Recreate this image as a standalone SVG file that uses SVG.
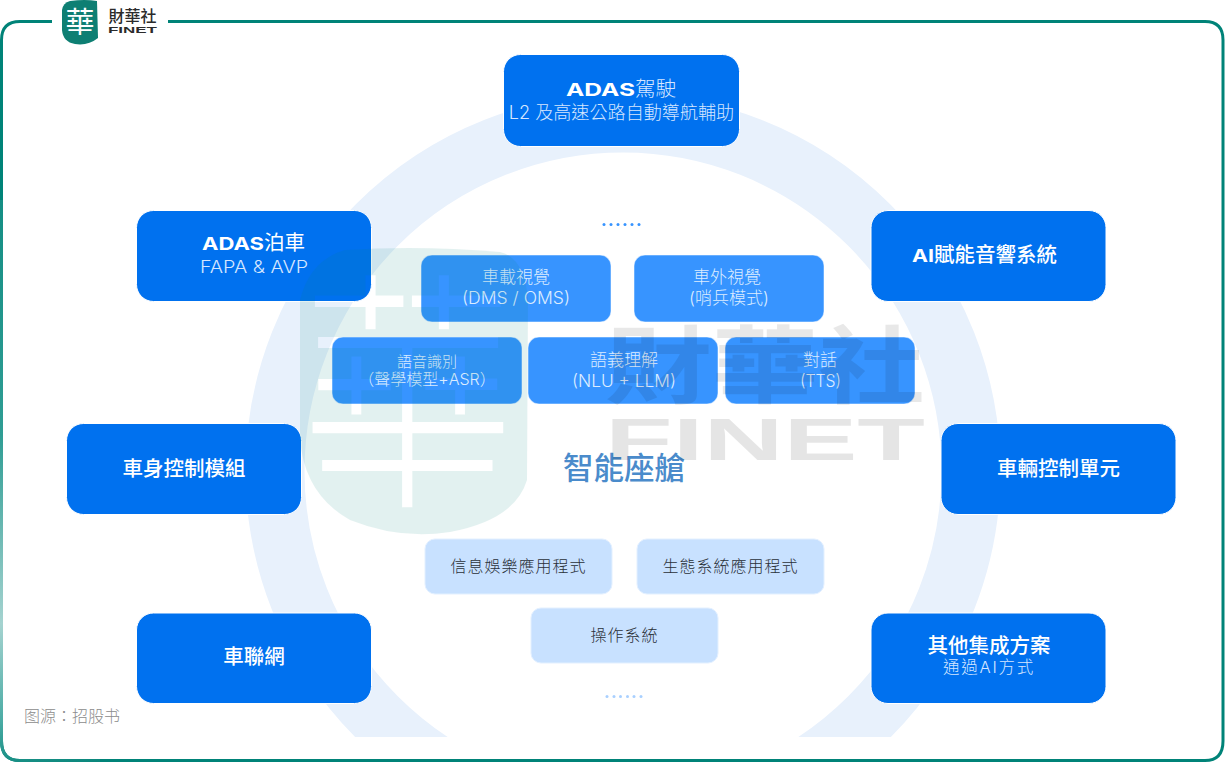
<svg xmlns="http://www.w3.org/2000/svg" width="1225" height="782" viewBox="0 0 1225 782">
<style>
text{font-family:"Inter","Noto Sans CJK TC",sans-serif;text-anchor:middle}
.st{text-anchor:start}
.n{fill:#0071ef;stroke:#fff;stroke-width:1}
.m{fill:#3794ff;stroke:#fff;stroke-opacity:.5}
.l{fill:#c8e1ff;stroke:#e3f0ff}
.t{fill:#fff;font-size:20.500px;font-weight:500}
.s{fill:#d5e6ff;font-size:18.100px;font-weight:300}
.b{fill:#fff;font-weight:700;font-size:18px}
.mt{fill:#dcecff;font-size:17px;font-weight:300}
.lt{fill:#2a3038;font-size:16px;font-weight:300;letter-spacing:1px}
</style>
<defs>
<linearGradient id="fr" gradientUnits="userSpaceOnUse" x1="0" y1="21" x2="100" y2="761">
<stop offset="0" stop-color="#008378"/><stop offset=".55" stop-color="#2f9d94"/><stop offset=".8" stop-color="#a5d3d0"/><stop offset=".93" stop-color="#4aaba4"/><stop offset="1" stop-color="#0a877c"/>
</linearGradient>
<clipPath id="rc"><rect x="0" y="0" width="1225" height="737"/></clipPath>
<mask id="lm" maskUnits="userSpaceOnUse" x="280" y="230" width="270" height="320">
<rect x="280" y="230" width="270" height="320" fill="#fff"/>
<text transform="translate(408 488) scale(.95 1.130)" style="font-size:225px;font-weight:300" fill="#000">華</text>
</mask>
</defs>
<rect width="1225" height="782" fill="#fff"/>
<g id="frame" fill="none" stroke-width="3">
<path d="M52 21.500H20Q1.500 21.500 1.500 40V741Q1.500 760.500 20 760.500H1205Q1223 760.500 1223 741V40Q1223 21.500 1205 21.500H168" stroke="#008378"/>
<path d="M1.500 200V741Q1.500 760.500 20 760.500H100" stroke="url(#fr)"/>
</g>
<g id="ring" clip-path="url(#rc)">
<circle cx="623" cy="471" r="348" fill="none" stroke="#e8f1fc" stroke-width="59"/>
</g>
<g id="logo">
<path d="M70 1Q85 -1 97 1L98 38Q88 46 75 44Q63 42 62 30L62 10Q63 3 70 1Z" fill="#0e7f73"/>
<text x="80" y="33" style="font-size:29px;font-weight:400" fill="#fff">華</text>
<text x="132.500" y="22" style="font-size:16px;font-weight:500" fill="#2b2b2b">財華社</text>
<text x="108" y="33" class="st" textLength="49" lengthAdjust="spacingAndGlyphs" style="font-size:9.500px;font-weight:700;font-family:'Liberation Sans',sans-serif" fill="#2b2b2b">FINET</text>
</g>
<g id="connectors"></g>
<g id="n-drive"><rect class="n" x="503.500" y="54.500" width="236" height="92" rx="17"/>
<text x="566" y="96" class="st b" textLength="69" lengthAdjust="spacingAndGlyphs">ADAS</text>
<text x="635" y="96" class="st t" style="font-weight:300;fill:#d5e6ff">駕駛</text>
<text x="621.500" y="119" class="s">L2 及高速公路自動導航輔助</text></g>
<g id="n-park"><rect class="n" x="136.500" y="210.500" width="235" height="91" rx="17"/>
<text x="202" y="250" class="st b" textLength="62" lengthAdjust="spacingAndGlyphs">ADAS</text>
<text x="264" y="250" class="st t" style="font-weight:400">泊車</text>
<text x="200" y="273" class="st" textLength="108" lengthAdjust="spacingAndGlyphs" style="font-size:17px;font-weight:300;fill:#d5e6ff">FAPA &amp; AVP</text></g>
<g id="n-audio"><rect class="n" x="871" y="210.500" width="235" height="91" rx="17"/>
<text x="912" y="262" class="st b" textLength="22" lengthAdjust="spacingAndGlyphs">AI</text>
<text x="934" y="262" class="st t">賦能音響系統</text></g>
<g id="n-body"><rect class="n" x="66.500" y="423.500" width="235" height="91" rx="17"/>
<text x="184" y="476" class="t">車身控制模組</text></g>
<g id="n-vcu"><rect class="n" x="941" y="423.500" width="235" height="91" rx="17"/>
<text x="1058.500" y="476" class="t">車輛控制單元</text></g>
<g id="n-iov"><rect class="n" x="136.500" y="613" width="235" height="90.500" rx="17"/>
<text x="254" y="664" class="t">車聯網</text></g>
<g id="n-other"><rect class="n" x="871" y="613" width="235" height="90.500" rx="17"/>
<text x="989" y="653" class="t">其他集成方案</text>
<text x="989" y="673" class="s" style="font-size:16.500px;letter-spacing:1.800px">通過AI方式</text></g>
<g id="n-cabin"><text x="624" y="479" style="font-size:30.500px;font-weight:500" fill="#4a8bcb">智能座艙</text></g>
<g id="dots-top" fill="#3794ff"><circle cx="604" cy="224.500" r="1.500"/><circle cx="611" cy="224.500" r="1.500"/><circle cx="618" cy="224.500" r="1.500"/><circle cx="625" cy="224.500" r="1.500"/><circle cx="632" cy="224.500" r="1.500"/><circle cx="639" cy="224.500" r="1.500"/></g>
<g id="n-in"><rect class="m" x="421" y="255" width="190" height="67" rx="11"/><text x="516" y="283" class="mt">車載視覺</text><text x="462" y="304" class="st mt" textLength="108" lengthAdjust="spacingAndGlyphs">(DMS / OMS)</text></g>
<g id="n-out"><rect class="m" x="634" y="255" width="190" height="67" rx="11"/><text x="727" y="283" class="mt">車外視覺</text><text x="729" y="304" class="mt">(哨兵模式)</text></g>
<g id="n-asr"><rect class="m" x="332" y="337" width="190" height="67" rx="11"/><text x="427" y="367" class="mt" style="font-size:15px">語音識別</text><text x="427" y="385" class="mt" style="font-size:16px">（聲學模型+ASR）</text></g>
<g id="n-nlu"><rect class="m" x="528" y="337" width="190" height="67" rx="11"/><text x="624" y="366" class="mt">語義理解</text><text x="572" y="387" class="st mt" textLength="104" lengthAdjust="spacingAndGlyphs">(NLU + LLM)</text></g>
<g id="n-tts"><rect class="m" x="725" y="337" width="190" height="67" rx="11"/><text x="820" y="366" class="mt">對話</text><text x="800" y="387" class="st mt" textLength="41" lengthAdjust="spacingAndGlyphs">(TTS)</text></g>
<g id="n-info"><rect class="l" x="425" y="539" width="187" height="55" rx="10"/><text x="518.500" y="572" class="lt">信息娛樂應用程式</text></g>
<g id="n-eco"><rect class="l" x="637" y="539" width="187" height="55" rx="10"/><text x="730.500" y="572" class="lt">生態系統應用程式</text></g>
<g id="n-os"><rect class="l" x="531" y="608" width="187" height="55" rx="10"/><text x="624.500" y="641" class="lt">操作系統</text></g>
<g id="dots-bot" fill="#a9d0ff"><circle cx="607" cy="696.500" r="1.500"/><circle cx="614" cy="696.500" r="1.500"/><circle cx="620.500" cy="696.500" r="1.500"/><circle cx="627.500" cy="696.500" r="1.500"/><circle cx="634" cy="696.500" r="1.500"/><circle cx="641" cy="696.500" r="1.500"/></g>
<text id="source" x="72" y="722" style="font-size:16px;font-weight:300" fill="#8c8c8c">图源：招股书</text>
<g id="watermark">
<path d="M345 250Q420 245 500 252Q525 258 528 300L527 480Q515 520 450 532Q400 540 350 520Q305 495 300 440L300 300Q310 260 345 250Z" fill="#008378" fill-opacity=".115" mask="url(#lm)"/>
<text x="605" y="397" class="st" textLength="320" lengthAdjust="spacingAndGlyphs" style="font-size:85px;font-weight:700" fill="#000" fill-opacity=".09">財華社</text>
<text x="605" y="460" class="st" textLength="320" lengthAdjust="spacingAndGlyphs" style="font-size:60px;font-weight:700;font-family:'Liberation Sans',sans-serif" fill="#000" fill-opacity=".1">FINET</text>
</g>
</svg>
